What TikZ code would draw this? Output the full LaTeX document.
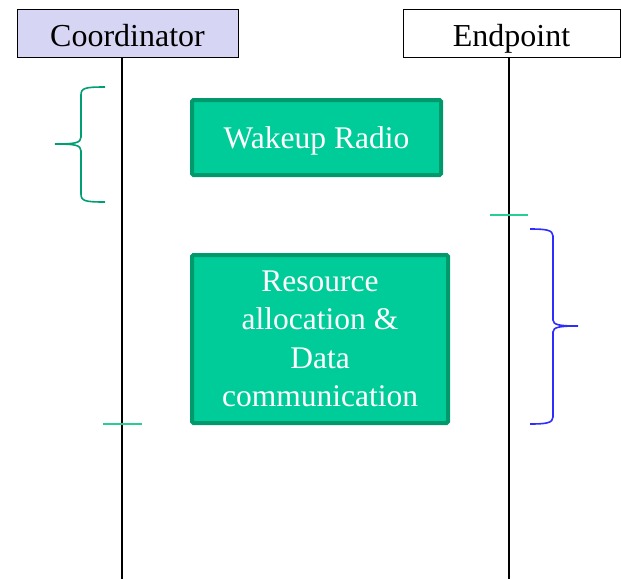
\documentclass[tikz,border=0pt]{standalone}
\usepackage{fontspec}
\setmainfont{Liberation Serif}
\usepackage{tikz}
\usetikzlibrary{positioning,calc}
\definecolor{lavender}{RGB}{214,214,244}
\definecolor{boxgreen}{RGB}{0,204,153}
\definecolor{edgegreen}{RGB}{0,153,108}
\definecolor{bracegreen}{RGB}{0,158,115}
\definecolor{tickgreen}{RGB}{40,205,150}
\definecolor{braceblue}{RGB}{45,45,255}

\begin{document}
\begin{tikzpicture}[x=1pt, y=-1pt,
	actor/.style={draw, line width=1pt, minimum height=48pt, text height=26pt, text depth=0pt, font=\fontsize{32}{36}\selectfont},
	phase/.style={draw=edgegreen, fill=boxgreen, line width=4pt, rounded corners=1.5pt, text=white, align=center, font=\fontsize{31.5}{38.5}\selectfont},
	lifeline/.style={line width=1.3pt},
	tick/.style={draw=tickgreen, line width=2pt}]
	\useasboundingbox (0,0) rectangle (621,579);
	% participants
	\node [actor, fill=lavender, minimum width=221pt](coord_node) at (127.5,33) {Coordinator};
	\node [actor, fill=white, minimum width=217pt](end_node) at (511.5,33) {Endpoint};
	\coordinate (coord_bottom) at (122,579);
	\coordinate (end_bottom) at (509,579);
	\draw [lifeline] (coord_node.south -| coord_bottom) -- (coord_bottom);
	\draw [lifeline] (end_node.south -| end_bottom) -- (end_bottom);
	% phases
	\node [phase, minimum width=249pt, minimum height=75pt, text depth=0pt](wakeup_node) at (316.5,137.5) {Wakeup Radio};
	\node [phase, minimum width=256pt, minimum height=168pt](data_node) at (320,339) {Resource\\allocation \&\\Data\\communication};
	% ticks
	\coordinate (end_tick) at (509,215);
	\coordinate (coord_tick) at (122,424);
	\draw [tick] ($(end_tick)+(-19,0)$) -- ($(end_tick)+(19,0)$);
	\draw [tick] ($(coord_tick)+(-19,0)$) -- ($(coord_tick)+(20,0)$);
	% braces
	\draw [bracegreen, line width=1.6pt] (105,87) .. controls (85,87) and (81,88) .. (81,95) -- (81,137) .. controls (81,143) and (75,144) .. (55,144)
		.. controls (75,144) and (81,145) .. (81,151) -- (81,194) .. controls (81,201) and (85,202) .. (105,202);
	\draw [braceblue, line width=1.6pt] (530,229) .. controls (546,229) and (553,230) .. (553,236) -- (553,320) .. controls (553,325) and (560,326) .. (578,326)
		.. controls (560,326) and (553,327) .. (553,332) -- (553,417) .. controls (553,423) and (546,424) .. (530,424);
\end{tikzpicture}
\end{document}
